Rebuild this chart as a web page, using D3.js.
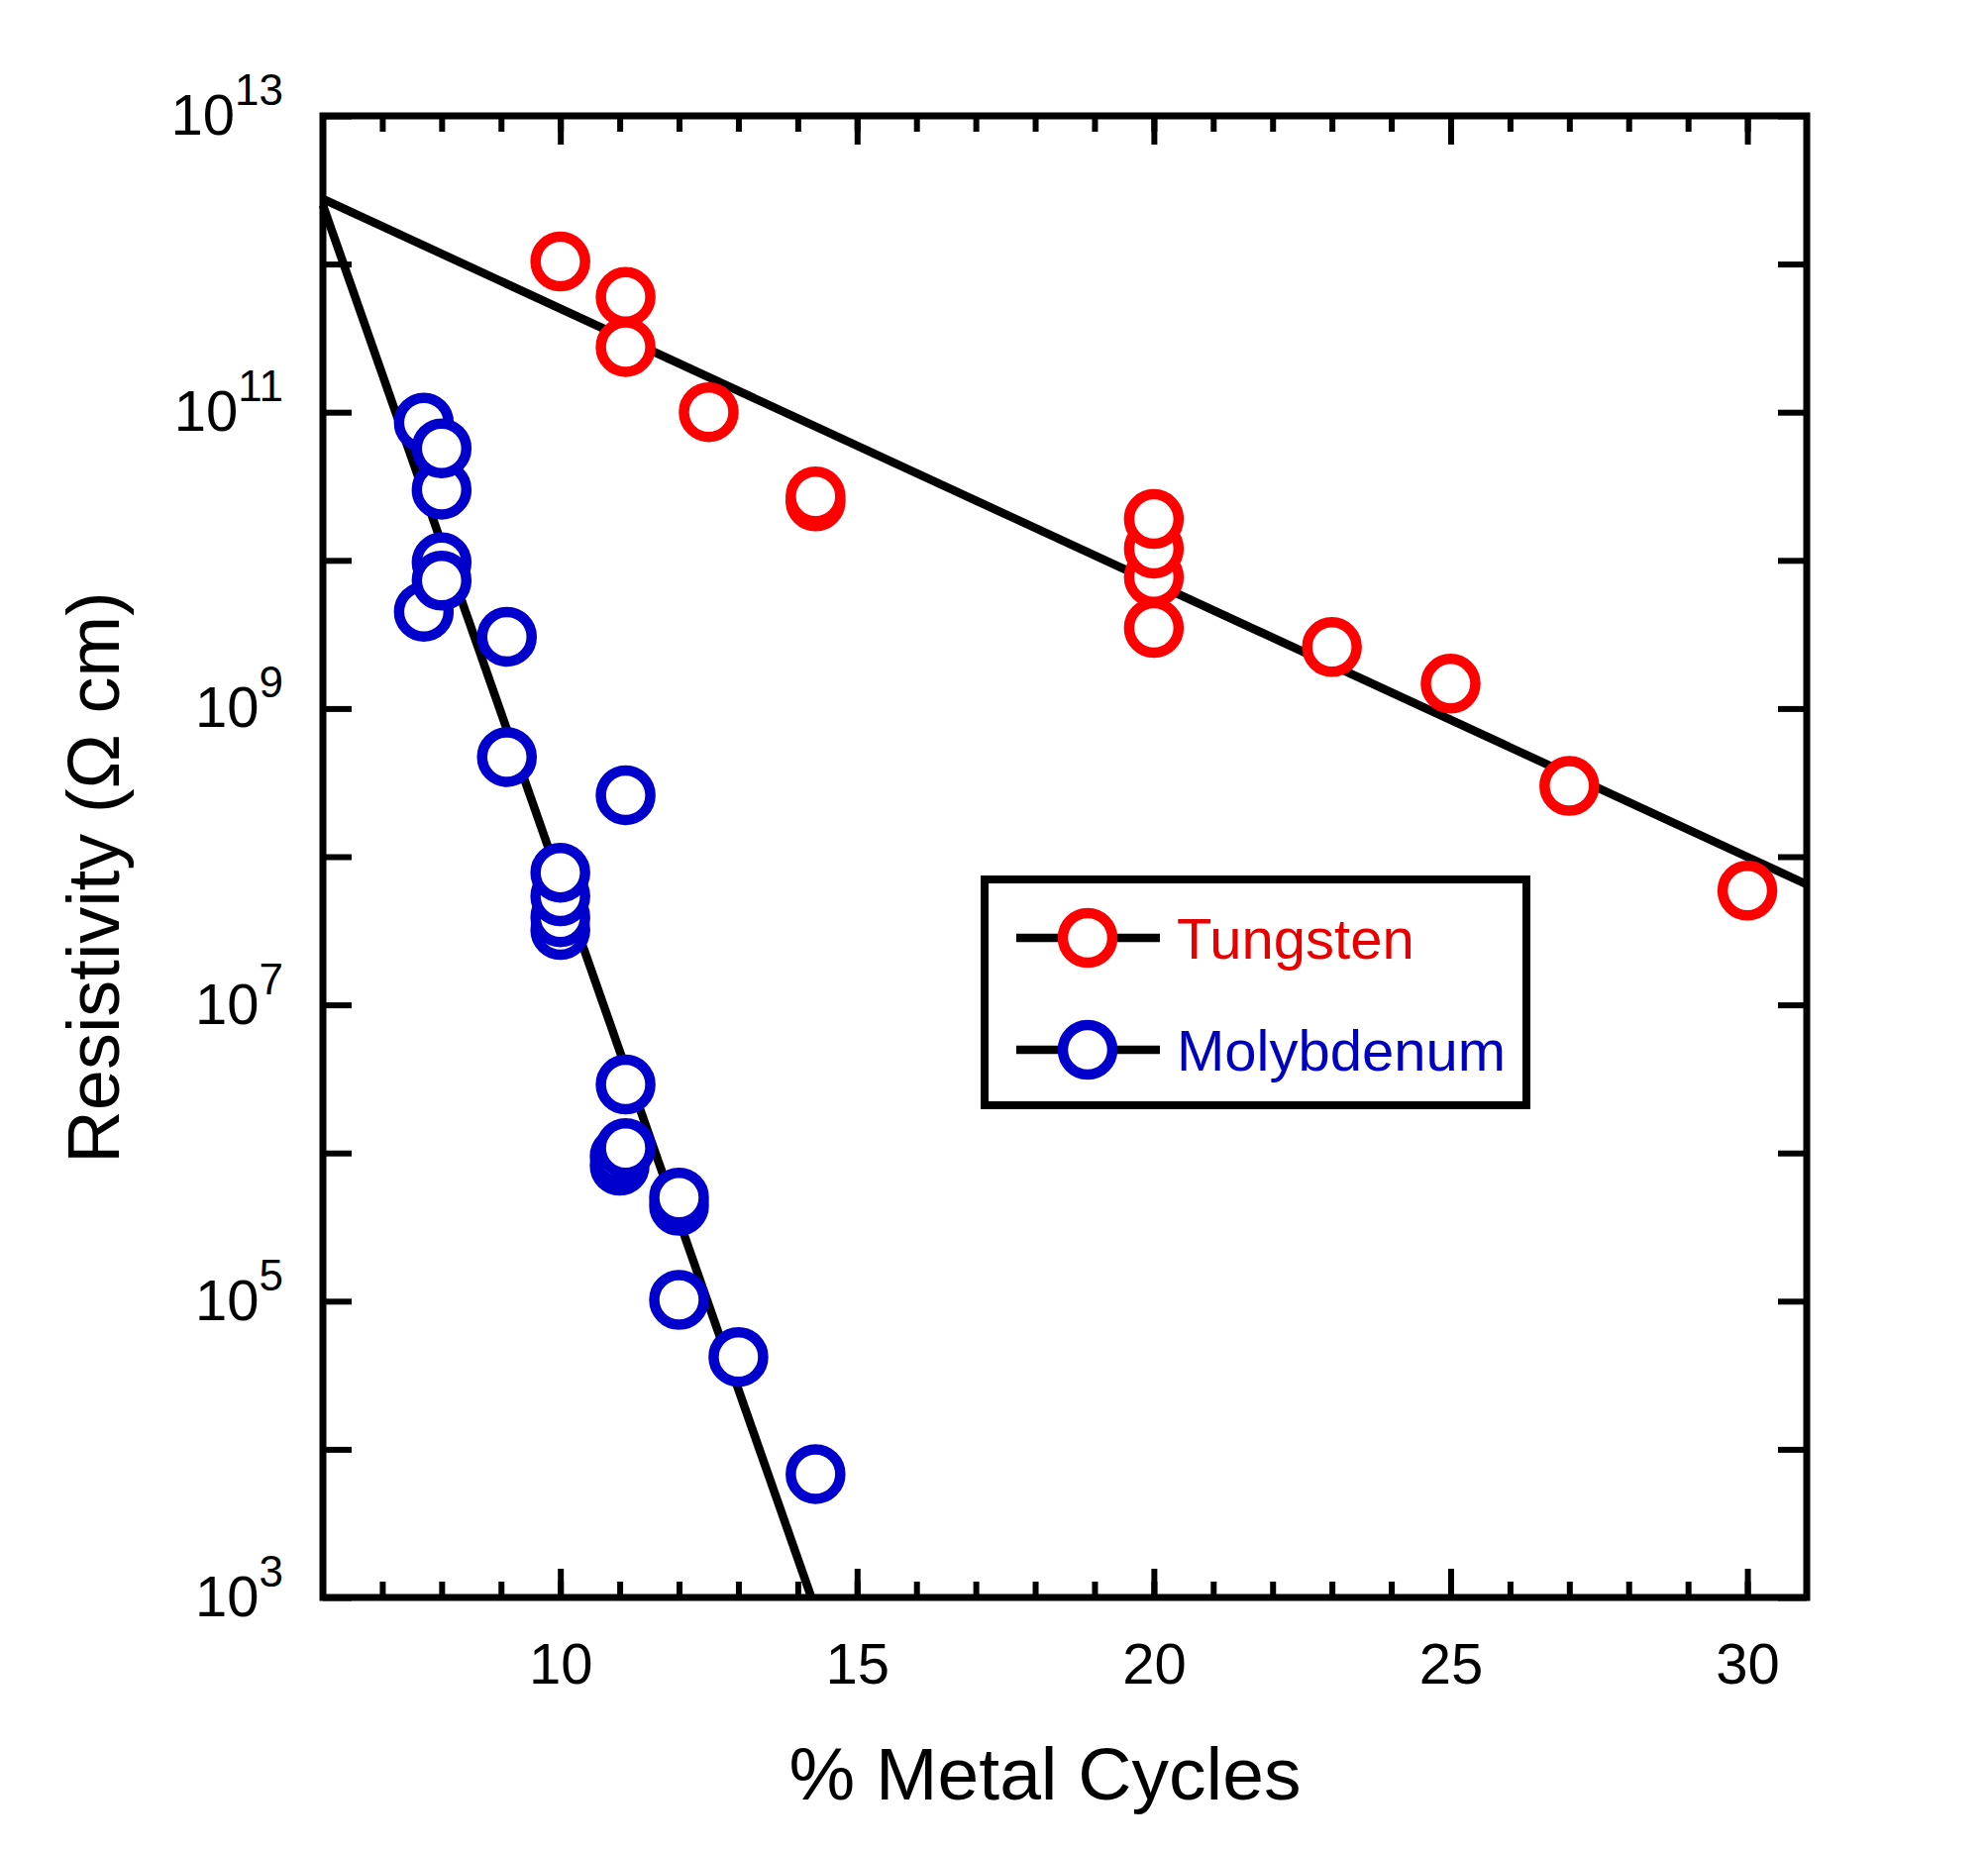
<!DOCTYPE html>
<html>
<head>
<meta charset="utf-8">
<script src="https://cdn.jsdelivr.net/npm/d3@7"></script>
<style>
  body { margin: 0; background: #fff; }
  text { font-family: "Liberation Sans", Arial, Helvetica, sans-serif; }
</style>
</head>
<body>
<svg id="svg" width="2007" height="1869"></svg>
<script>
// data: % metal cycles vs resistivity (ohm cm)
var tungstenX = [10, 11.1, 11.1, 12.5, 14.3, 14.3, 20, 20, 20, 20, 23, 25, 27, 30];
var tungstenY = [1.04e12, 6e11, 2.75e11, 1e11, 2.5e10, 2.7e10, 3.5e9, 7.7e9, 1.2e10, 1.9e10, 2.6e9, 1.47e9, 3e8, 5.9e7];

var molyX = [7.7, 8, 8, 8, 7.7, 8, 9.1, 9.1, 11.1, 10, 10, 10, 10, 11.1, 11.0, 11.0, 11.1, 12, 12, 12, 13, 14.3];
var molyY = [8.5e10, 3e10, 5.7e10, 9.7e9, 4.5e9, 7.3e9, 3.05e9, 4.7e8, 2.6e8, 3.2e7, 3.9e7, 5.4e7, 7.8e7, 2.9e6, 8.2e5, 9.5e5, 1.08e6, 4.4e5, 5e5, 1.02e5, 4.2e4, 6.8e3];

// straight fit lines
var tungstenFitX = [6, 31];
var tungstenFitY = [2.75e12, 6.5e7];
var molyFitX = [6, 14.23];
var molyFitY = [2.5e12, 1e3];

var xDomain = [6, 31];
var yDomain = [1e3, 1e13];
var xMajorTicks = [10, 15, 20, 25, 30];
var xMinorTicks = d3.range(7, 31);
var yExponents = d3.range(3, 14);
var yLabelExponents = [3, 5, 7, 9, 11, 13];

var seriesNames = ["Tungsten", "Molybdenum"];
var seriesColors = ["#ff0000", "#0000cc"];
var textColors = ["#e80000", "#0000c0"];

function zip(xs, ys) {
  return xs.map(function (v, i) { return {x: v, y: ys[i]}; });
}

var svg = d3.select("#svg"),
  plotLeft = 326, plotRight = 1824, plotTop = 117, plotBottom = 1613;

var x = d3.scaleLinear().domain(xDomain).range([plotLeft, plotRight]),
    y = d3.scaleLog().domain(yDomain).range([plotBottom, plotTop]);

var line = d3.line()
  .x(function (d) { return x(d.x); })
  .y(function (d) { return y(d.y); });

// fit lines
[zip(tungstenFitX, tungstenFitY), zip(molyFitX, molyFitY)].forEach(function (pts) {
  svg.append("path")
    .attr("d", line(pts))
    .attr("fill", "none")
    .attr("stroke", "#000")
    .attr("stroke-width", 8.5);
});

// markers
[zip(tungstenX, tungstenY), zip(molyX, molyY)].forEach(function (pts, i) {
  svg.append("g")
    .selectAll("circle")
    .data(pts)
    .enter()
    .append("circle")
    .attr("cx", function (d) { return x(d.x); })
    .attr("cy", function (d) { return y(d.y); })
    .attr("r", 25)
    .attr("fill", "#fff")
    .attr("stroke", seriesColors[i])
    .attr("stroke-width", 10.5);
});

// axes (ticks point inward)
function styleAxis(g) {
  g.select(".domain").remove();
  g.selectAll(".tick line").attr("stroke", "#000").attr("stroke-width", 6);
  g.attr("font-size", 58)
   .attr("font-family", "'Liberation Sans', Arial, Helvetica, sans-serif");
  g.selectAll(".tick text").attr("fill", "#000");
}

svg.append("g")
  .attr("transform", "translate(0," + plotBottom + ")")
  .call(d3.axisBottom(x).tickValues(xMinorTicks).tickSizeInner(-16).tickSizeOuter(0).tickFormat(""))
  .call(styleAxis);
svg.append("g")
  .attr("transform", "translate(0," + plotBottom + ")")
  .call(d3.axisBottom(x).tickValues(xMajorTicks).tickSizeInner(-29).tickSizeOuter(0).tickPadding(46))
  .call(styleAxis);
svg.append("g")
  .attr("transform", "translate(0," + plotTop + ")")
  .call(d3.axisTop(x).tickValues(xMinorTicks).tickSizeInner(-16).tickSizeOuter(0).tickFormat(""))
  .call(styleAxis);
svg.append("g")
  .attr("transform", "translate(0," + plotTop + ")")
  .call(d3.axisTop(x).tickValues(xMajorTicks).tickSizeInner(-29).tickSizeOuter(0).tickFormat(""))
  .call(styleAxis);

var yTicks = yExponents.map(function (e) { return Math.pow(10, e); });

var yAxisG = svg.append("g")
  .attr("transform", "translate(" + plotLeft + ",0)")
  .call(d3.axisLeft(y).tickValues(yTicks).tickSizeInner(-29).tickSizeOuter(0).tickPadding(40))
  .call(styleAxis);

yAxisG.selectAll(".tick text").each(function (d) {
  var e = Math.round(Math.log10(d));
  var t = d3.select(this).text(null);
  if (yLabelExponents.indexOf(e) < 0) return;
  t.append("tspan").text("10");
  t.append("tspan").attr("dy", -30).attr("font-size", 44).text(e);
});

svg.append("g")
  .attr("transform", "translate(" + plotRight + ",0)")
  .call(d3.axisRight(y).tickValues(yTicks).tickSizeInner(-29).tickSizeOuter(0).tickFormat(""))
  .call(styleAxis);

// frame
svg.append("rect")
  .attr("x", plotLeft).attr("y", plotTop)
  .attr("width", plotRight - plotLeft).attr("height", plotBottom - plotTop)
  .attr("fill", "none")
  .attr("stroke", "#000")
  .attr("stroke-width", 7);

// axis titles
svg.append("text")
  .attr("x", 1055).attr("y", 1817)
  .attr("text-anchor", "middle")
  .attr("font-size", 75)
  .text("% Metal Cycles");

svg.append("text")
  .attr("transform", "translate(120,886) rotate(-90)")
  .attr("text-anchor", "middle")
  .attr("font-size", 74)
  .text("Resistivity (\u03A9 cm)");

// legend
var legend = svg.append("g");
legend.append("rect")
  .attr("x", 994).attr("y", 888)
  .attr("width", 547).attr("height", 228)
  .attr("fill", "#fff")
  .attr("stroke", "#000")
  .attr("stroke-width", 8);

var item = legend.selectAll(".item")
  .data(seriesNames)
  .enter()
  .append("g")
  .attr("class", "item")
  .attr("transform", function (d, i) { return "translate(0," + (947 + i * 113) + ")"; });

item.append("line")
  .attr("x1", 1026).attr("x2", 1171)
  .attr("stroke", "#000").attr("stroke-width", 8.5);

item.append("circle")
  .attr("cx", 1098).attr("r", 25)
  .attr("fill", "#fff")
  .attr("stroke", function (d, i) { return seriesColors[i]; })
  .attr("stroke-width", 10.5);

item.append("text")
  .attr("x", 1188).attr("y", 21)
  .attr("font-size", 58)
  .attr("fill", function (d, i) { return textColors[i]; })
  .text(function (d) { return d; });
</script>
</body>
</html>
